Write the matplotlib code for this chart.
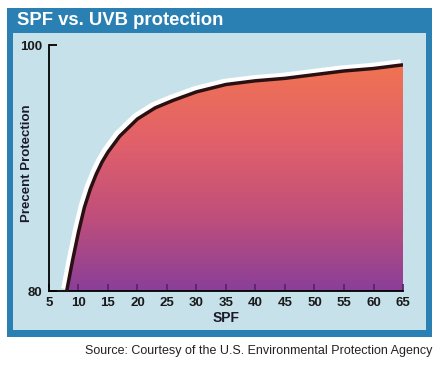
import numpy as np
import matplotlib
matplotlib.use("Agg")
import matplotlib.pyplot as plt
import matplotlib.patheffects as pe
from matplotlib.colors import LinearSegmentedColormap
from matplotlib.patches import Rectangle

plt.rcParams['font.family'] = ['Liberation Sans', 'DejaVu Sans']

# values
spf = [8, 9, 10, 11, 12, 13, 14, 15, 17, 20, 23, 26, 30, 35, 40, 45, 50, 55, 60, 65]
protection = [80, 82.5, 84.8, 86.8, 88.3, 89.5, 90.5, 91.3, 92.6, 94.0, 94.9,
              95.5, 96.2, 96.8, 97.1, 97.3, 97.6, 97.9, 98.1, 98.4]
x_ticks = [5, 10, 15, 20, 25, 30, 35, 40, 45, 50, 55, 60, 65]
y_ticks = [80, 100]

fig = plt.figure(figsize=(4.39, 3.67), dpi=100)
fig.patch.set_facecolor('white')

# blue frame + light inner panel, on a background axes
bg = fig.add_axes([0, 0, 1, 1], zorder=-5)
bg.set_xlim(0, 1)
bg.set_ylim(0, 1)
bg.axis('off')
bg.add_patch(Rectangle((0.016, 0.082), 0.968, 0.896, facecolor='#2a80b3', edgecolor='none'))
bg.add_patch(Rectangle((0.0296, 0.101), 0.940, 0.809, facecolor='#c6e1ea', edgecolor='none'))
fig.text(0.039, 0.944, 'SPF vs. UVB protection', color='white', fontsize=13.3,
         fontweight='bold', va='center', ha='left')

ax = fig.add_axes([0.1116, 0.207, 0.8064, 0.670])
ax.set_facecolor('none')

# gradient under the curve
cmap = LinearSegmentedColormap.from_list('sun', ['#8a3f99', '#c04f7a', '#e2616a', '#f07352'])
grad = np.linspace(0, 1, 256).reshape(-1, 1)
im = ax.imshow(grad, cmap=cmap, origin='lower', aspect='auto',
               extent=[5, 65, 80, max(protection)], zorder=1)
poly = ax.fill_between(spf, 80, protection, facecolor='none', edgecolor='none')
im.set_clip_path(poly.get_paths()[0], transform=ax.transData)

ax.plot(spf, protection, color='#2a1012', lw=2.5, solid_capstyle='butt',
        solid_joinstyle='round', zorder=3,
        path_effects=[pe.Stroke(offset=(-1.6, 1.6), linewidth=4.8, foreground='white'),
                      pe.Normal()])

ax.set_xlim(5, 65)
ax.set_ylim(80, 100)
ax.set_xticks(x_ticks)
ax.set_yticks(y_ticks)
ax.spines['top'].set_visible(False)
ax.spines['right'].set_visible(False)
ax.spines['left'].set_linewidth(1.3)
ax.spines['bottom'].set_linewidth(1.3)
ax.tick_params(axis='x', direction='in', length=5, width=1.2, color='#5b2060',
               labelsize=9.5, pad=4)
ax.tick_params(axis='y', direction='in', length=6, width=1.3, color='black',
               labelsize=9.5, pad=5)
for lab in ax.get_xticklabels() + ax.get_yticklabels():
    lab.set_fontweight('bold')
    lab.set_color('#1a1a1a')
ax.set_xlabel('SPF', fontsize=10, fontweight='bold', color='#1a1a2a', labelpad=2)
ax.set_ylabel('Precent Protection', fontsize=9.5, fontweight='bold', color='#1a1a2a')
ax.yaxis.set_label_coords(-0.044, 0.52)

fig.text(0.984, 0.044, 'Source: Courtesy of the U.S. Environmental Protection Agency',
         fontsize=9, ha='right', va='center', color='#222222')

fig.savefig('out.png', dpi=100)
